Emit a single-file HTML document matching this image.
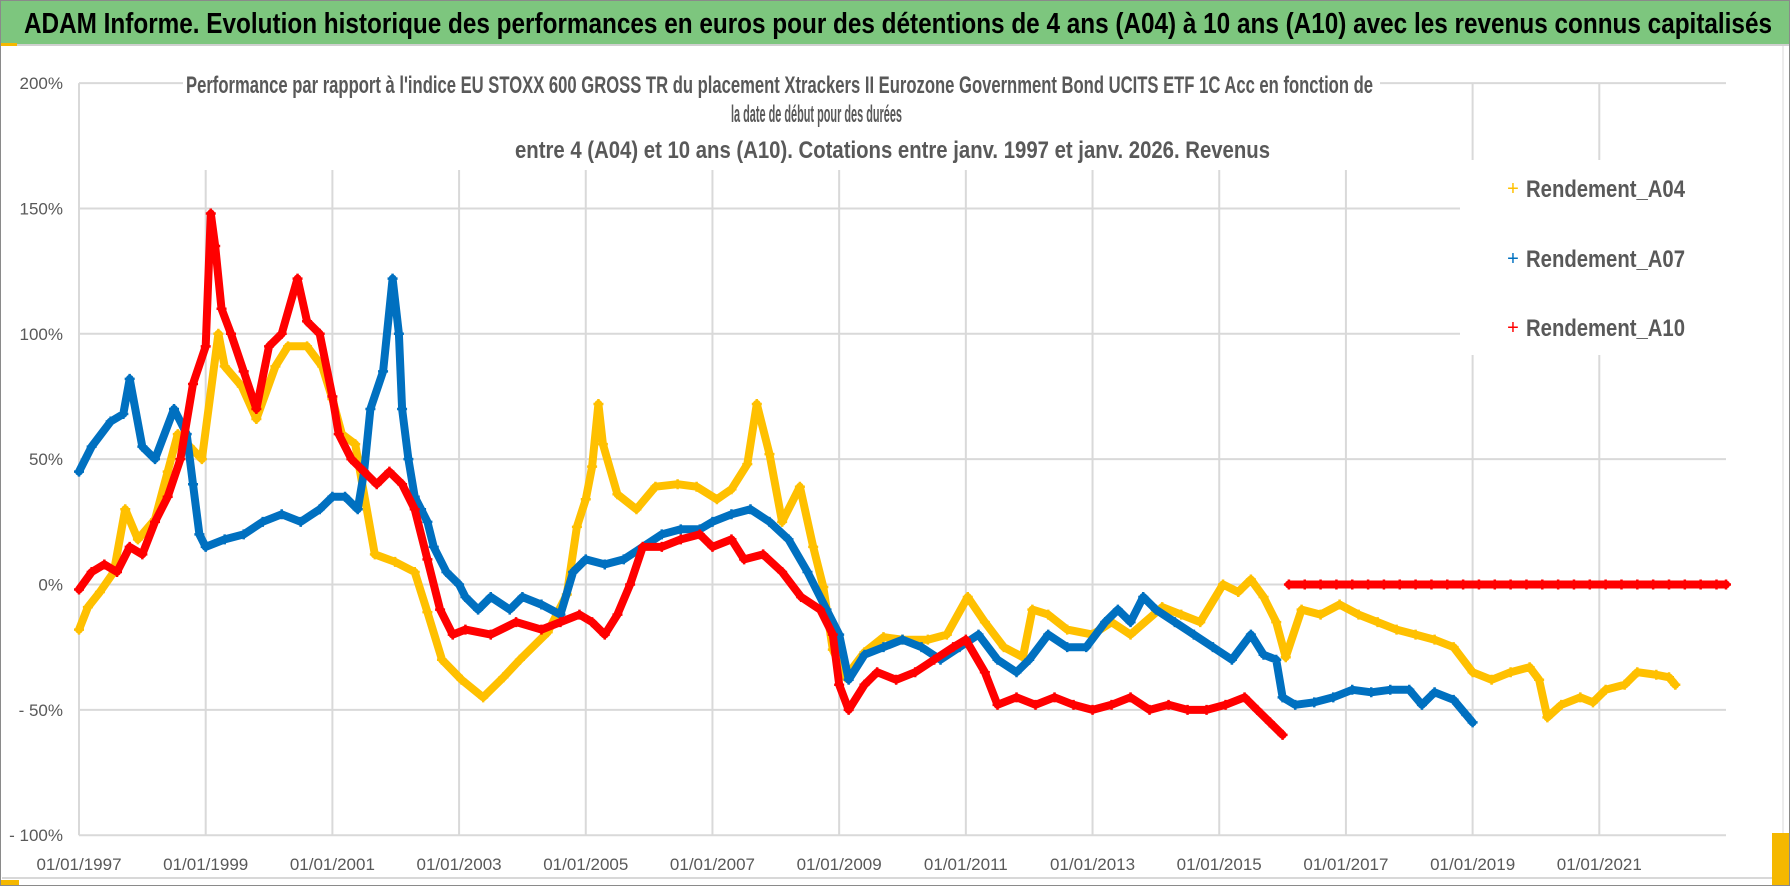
<!DOCTYPE html>
<html><head><meta charset="utf-8"><style>
html,body{margin:0;padding:0;background:#fff;}
svg{display:block;font-family:"Liberation Sans Narrow","Liberation Sans",sans-serif;}
</style></head><body>
<svg id="chart" width="1790" height="886" viewBox="0 0 1790 886" xmlns="http://www.w3.org/2000/svg">
<rect x="0" y="0" width="1790" height="886" fill="#fff"/>
<rect x="0.5" y="0.5" width="1789" height="885" fill="none" stroke="#8a8a8a"/>
<rect x="1" y="1" width="1788" height="43" fill="#7dc67e"/>
<line x1="1" y1="45" x2="1789" y2="45" stroke="#d0d0d0" stroke-width="2"/>
<rect x="1" y="43" width="16" height="3" fill="#f5b800"/>
<text x="24" y="33" font-size="29" font-weight="bold" fill="#000" textLength="1748" lengthAdjust="spacingAndGlyphs">ADAM Informe. Evolution historique des performances en euros pour des détentions de 4 ans (A04) à 10 ans (A10) avec les revenus connus capitalisés</text>
<line x1="1783" y1="46" x2="1783" y2="880" stroke="#d8d8d8"/>
<line x1="2" y1="878" x2="1783" y2="878" stroke="#d8d8d8" stroke-width="2"/>
<rect x="1772" y="833" width="17" height="52" fill="#f5b800"/>
<rect x="1" y="880" width="18" height="5" fill="#f5b800"/>
<g id="grid"></g>
<g id="series"></g>
<rect x="183" y="58" width="1197" height="112" fill="#fff"/>
<text x="186" y="93" font-size="24" font-weight="bold" fill="#595959" textLength="1187" lengthAdjust="spacingAndGlyphs">Performance par rapport à l'indice EU STOXX 600 GROSS TR  du placement Xtrackers II Eurozone Government Bond UCITS ETF 1C Acc en fonction de</text>
<text x="731" y="122" font-size="24" font-weight="bold" fill="#595959" textLength="171" lengthAdjust="spacingAndGlyphs">la date de début pour des durées</text>
<text x="515" y="158" font-size="24" font-weight="bold" fill="#595959" textLength="755" lengthAdjust="spacingAndGlyphs">entre 4 (A04) et 10 ans (A10).  Cotations entre janv. 1997 et janv. 2026. Revenus</text>
<g>
<rect x="1460" y="160" width="268" height="195" fill="#fff"/>
<g>
<text x="1513" y="195" font-size="20" fill="#ffc000" text-anchor="middle" font-family="Liberation Sans">+</text>
<text x="1526" y="197" font-size="24" font-weight="bold" fill="#595959" textLength="159" lengthAdjust="spacingAndGlyphs">Rendement_A04</text></g>
<g>
<text x="1513" y="265" font-size="20" fill="#0070c0" text-anchor="middle" font-family="Liberation Sans">+</text>
<text x="1526" y="267" font-size="24" font-weight="bold" fill="#595959" textLength="159" lengthAdjust="spacingAndGlyphs">Rendement_A07</text></g>
<g>
<text x="1513" y="334" font-size="20" fill="#ff0000" text-anchor="middle" font-family="Liberation Sans">+</text>
<text x="1526" y="336" font-size="24" font-weight="bold" fill="#595959" textLength="159" lengthAdjust="spacingAndGlyphs">Rendement_A10</text></g>
</g>
</svg>
<script>
const yTicks = [200, 150, 100, 50, 0, -50, -100];
const yTickLabels = ["200%", "150%", "100%", "50%", "0%", "- 50%", "- 100%"];
const xTicks = [1997, 1999, 2001, 2003, 2005, 2007, 2009, 2011, 2013, 2015, 2017, 2019, 2021];
const xTickLabels = ["01/01/1997","01/01/1999","01/01/2001","01/01/2003","01/01/2005","01/01/2007","01/01/2009","01/01/2011","01/01/2013","01/01/2015","01/01/2017","01/01/2019","01/01/2021"];

const a04Years = [1997.0,1997.14,1997.33,1997.55,1997.73,1997.93,1998.2,1998.4,1998.56,1998.75,1998.94,1999.2,1999.3,1999.57,1999.8,2000.1,2000.3,2000.6,2000.84,2001.0,2001.15,2001.36,2001.67,2001.99,2002.3,2002.5,2002.73,2003.04,2003.38,2003.7,2003.96,2004.4,2004.7,2004.86,2005.0,2005.1,2005.2,2005.27,2005.5,2005.8,2006.1,2006.45,2006.75,2007.07,2007.3,2007.55,2007.7,2007.9,2008.1,2008.38,2008.59,2008.75,2008.9,2009.1,2009.4,2009.7,2010.0,2010.4,2010.7,2011.03,2011.3,2011.6,2011.9,2012.05,2012.3,2012.6,2013.0,2013.3,2013.6,2014.1,2014.4,2014.7,2015.06,2015.3,2015.5,2015.7,2015.9,2016.05,2016.3,2016.6,2016.9,2017.2,2017.5,2017.8,2018.1,2018.4,2018.7,2019.0,2019.3,2019.6,2019.9,2020.05,2020.18,2020.4,2020.7,2020.9,2021.1,2021.4,2021.6,2021.9,2022.1,2022.2];
const a04Values = [-18,-9,-3,5,30,18,26,45,60,55,50,100,87,79,66,87,95,95,87,74,60,56,12,9,5,-11,-30,-38,-45,-37,-30,-19,-4,23,34,47,72,56,36,30,39,40,39,34,38,48,72,52,25,39,15,-1,-26,-37,-27,-21,-22,-22,-20,-5,-15,-25,-29,-10,-12,-18,-20,-15,-20,-9,-12,-15,0,-3,2,-5,-15,-29,-10,-12,-8,-12,-15,-18,-20,-22,-25,-35,-38,-35,-33,-38,-53,-48,-45,-47,-42,-40,-35,-36,-37,-40];

const a07Years = [1997.0,1997.2,1997.5,1997.7,1997.8,1998.0,1998.2,1998.5,1998.7,1998.8,1998.9,1999.0,1999.3,1999.6,1999.9,2000.2,2000.5,2000.8,2001.0,2001.2,2001.4,2001.5,2001.6,2001.8,2001.95,2002.05,2002.1,2002.2,2002.3,2002.4,2002.5,2002.6,2002.8,2003.0,2003.1,2003.3,2003.5,2003.8,2004.0,2004.3,2004.6,2004.8,2005.0,2005.3,2005.6,2005.9,2006.2,2006.5,2006.8,2007.0,2007.3,2007.6,2007.9,2008.2,2008.5,2008.8,2009.0,2009.15,2009.4,2009.7,2010.0,2010.3,2010.6,2010.9,2011.2,2011.5,2011.8,2012.0,2012.3,2012.6,2012.9,2013.2,2013.4,2013.6,2013.8,2014.0,2014.3,2014.6,2014.9,2015.2,2015.5,2015.7,2015.9,2016.0,2016.2,2016.5,2016.8,2017.1,2017.4,2017.7,2018.0,2018.2,2018.4,2018.7,2018.9,2019.0];
const a07Values = [45,55,65,68,82,55,50,70,60,40,20,15,18,20,25,28,25,30,35,35,30,45,70,85,122,100,70,50,35,30,25,15,5,0,-5,-10,-5,-10,-5,-8,-12,5,10,8,10,15,20,22,22,25,28,30,25,18,5,-10,-20,-38,-28,-25,-22,-25,-30,-25,-20,-30,-35,-30,-20,-25,-25,-15,-10,-15,-5,-10,-15,-20,-25,-30,-20,-28,-30,-45,-48,-47,-45,-42,-43,-42,-42,-48,-43,-46,-52,-55];

const a10Years = [1997.0,1997.2,1997.4,1997.6,1997.8,1998.0,1998.2,1998.4,1998.6,1998.8,1999.0,1999.08,1999.15,1999.25,1999.4,1999.6,1999.8,2000.0,2000.2,2000.45,2000.6,2000.8,2001.0,2001.1,2001.3,2001.5,2001.7,2001.9,2002.1,2002.3,2002.5,2002.7,2002.9,2003.1,2003.5,2003.9,2004.3,2004.6,2004.9,2005.1,2005.3,2005.5,2005.7,2005.9,2006.2,2006.5,2006.8,2007.0,2007.3,2007.5,2007.8,2008.1,2008.4,2008.7,2008.9,2009.0,2009.15,2009.4,2009.6,2009.9,2010.2,2010.5,2010.8,2011.0,2011.3,2011.5,2011.8,2012.1,2012.4,2012.7,2013.0,2013.3,2013.6,2013.9,2014.2,2014.5,2014.8,2015.1,2015.4,2015.6,2015.8,2016.0,
  2016.1,2016.35,2016.6,2016.85,2017.1,2017.35,2017.6,2017.85,2018.1,2018.35,2018.6,2018.85,2019.1,2019.35,2019.6,2019.85,2020.1,2020.35,2020.6,2020.85,2021.1,2021.35,2021.6,2021.85,2022.1,2022.35,2022.6,2022.85,2023.0];
const a10Values = [-2,5,8,5,15,12,25,35,50,80,95,148,135,110,100,85,70,95,100,122,105,100,75,60,50,45,40,45,40,30,10,-10,-20,-18,-20,-15,-18,-15,-12,-15,-20,-12,0,15,15,18,20,15,18,10,12,5,-5,-10,-20,-40,-50,-40,-35,-38,-35,-30,-25,-22,-35,-48,-45,-48,-45,-48,-50,-48,-45,-50,-48,-50,-50,-48,-45,-50,-55,-60,
  0,0,0,0,0,0,0,0,0,0,0,0,0,0,0,0,0,0,0,0,0,0,0,0,0,0,0,0,0];
const a10BreakBefore = 2016.1;

const X0 = 79, X1 = 1726, YEAR0 = 1997, YEAR1 = 2023;
const Y0 = 584.5, PXPERPCT = 2.507;
function xScale(yr){ return X0 + (yr - YEAR0) * (X1 - X0) / (YEAR1 - YEAR0); }
function yScale(v){ return Y0 - v * PXPERPCT; }

const NS = "http://www.w3.org/2000/svg";
const grid = document.getElementById('grid');
const series = document.getElementById('series');
function mk(tag, attrs, parent){ const e = document.createElementNS(NS, tag); for (const k in attrs) e.setAttribute(k, attrs[k]); parent.appendChild(e); return e; }

yTicks.forEach((v, i) => {
  const y = yScale(v);
  const ln = mk('line', {x1: X0, x2: X1, y1: y, y2: y, stroke: '#d9d9d9', 'stroke-width': 2}, grid);
  
  
  const t = mk('text', {x: 63, y: y + 6, 'text-anchor': 'end', 'font-size': 17, fill: '#595959'}, grid);
  t.textContent = yTickLabels[i];
  
  
});
xTicks.forEach((yr, i) => {
  const x = xScale(yr);
  const ln = mk('line', {x1: x, x2: x, y1: yScale(200), y2: yScale(-100), stroke: '#d9d9d9', 'stroke-width': 2}, grid);
  
  
  const t = mk('text', {x: x, y: 870, 'text-anchor': 'middle', 'font-size': 17, fill: '#595959'}, grid);
  t.textContent = xTickLabels[i];
  
  
});

function drawSeries(years, vals, color, name, breakAt){
  const g = mk('g', {}, series);
  
  
  let segs = [[]];
  years.forEach((yr, i) => {
    if (breakAt !== undefined && yr === breakAt) segs.push([]);
    segs[segs.length - 1].push([xScale(yr), yScale(vals[i])]);
  });
  segs.forEach(s => {
    const p = mk('polyline', {points: s.map(q => q[0].toFixed(1) + ',' + q[1].toFixed(1)).join(' '), fill: 'none', stroke: color, 'stroke-width': 8, 'stroke-linejoin': 'round', 'stroke-linecap': 'round'}, g);
    
    
  });
  years.forEach((yr, i) => {
    const x = xScale(yr), y = yScale(vals[i]);
    const m = mk('path', {d: `M${x-5},${y}H${x+5}M${x},${y-5}V${y+5}`, stroke: color, 'stroke-width': 2.5}, g);
    
    
  });
}
drawSeries(a04Years, a04Values, '#ffc000', 'series-a04');
drawSeries(a07Years, a07Values, '#0070c0', 'series-a07');
drawSeries(a10Years, a10Values, '#ff0000', 'series-a10', a10BreakBefore);
</script>
</body></html>
